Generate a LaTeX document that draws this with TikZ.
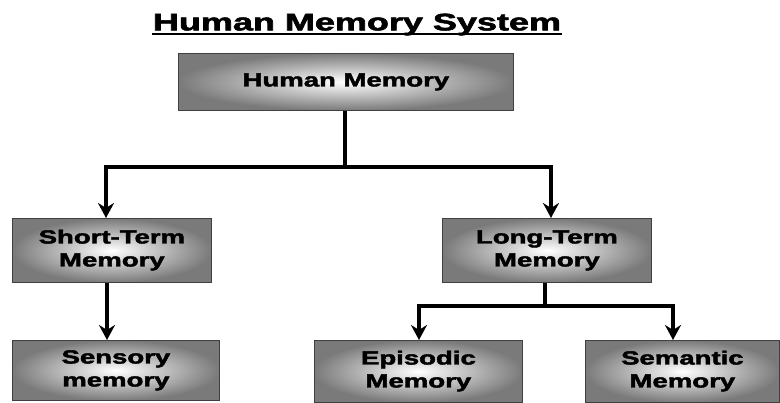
\documentclass[tikz,border=0pt]{standalone}
\usepackage{fontspec}
\usepackage{graphicx}
\setmainfont{Liberation Sans}
\newfontfamily\boxfont{Liberation Sans Bold}[FakeBold=2]
\newcommand{\widetext}[2]{\scalebox{#1}[1]{\begin{tabular}{@{}c@{}}#2\end{tabular}}}
\usetikzlibrary{arrows.meta}
\begin{document}
\begin{tikzpicture}[x=1pt,y=-1pt,
  membox/.style={draw=black!75, line width=0.8pt, inner color=white, outer color=black!52,
    align=center, font=\boxfont\fontsize{19}{23}\selectfont, anchor=north west, inner sep=0pt},
  conn/.style={line width=3.2pt, black},
  arr/.style={conn, -{Stealth[length=15pt,width=16pt,inset=5pt]}}]
\useasboundingbox (0,0) rectangle (780,403);
\node[font=\boxfont\fontsize{24}{28}\selectfont, anchor=base, inner sep=0pt] (title) at (357,31) {\widetext{1.5}{Human Memory System}};
\draw[line width=1.6pt] ([xshift=-1pt,yshift=-3pt]title.base west) -- ([xshift=1pt,yshift=-3pt]title.base east);
\node[membox, minimum width=335pt, minimum height=57pt] (hm) at (178,53) {\widetext{1.45}{Human Memory}};
\node[membox, minimum width=199pt, minimum height=64pt] (stm) at (12,218) {\widetext{1.45}{Short-Term\\Memory}};
\node[membox, minimum width=209pt, minimum height=64pt] (ltm) at (442,218) {\widetext{1.45}{Long-Term\\Memory}};
\node[membox, minimum width=207pt, minimum height=60pt] (sen) at (12,340) {\widetext{1.45}{Sensory\\memory}};
\node[membox, minimum width=208pt, minimum height=62pt] (epi) at (314,340) {\widetext{1.45}{Episodic\\Memory}};
\node[membox, minimum width=194pt, minimum height=62pt] (sem) at (585,340) {\widetext{1.45}{Semantic\\Memory}};
\coordinate (j1) at (345,167);
\coordinate (j2) at (545,306);
\draw[conn] (hm.south -| j1) -- (j1);
\draw[arr] (j1) -| (stm.north -| 106,0);
\draw[arr] (j1) -| (ltm.north -| 551,0);
\draw[arr] (stm.south -| 107,0) -- (sen.north -| 107,0);
\draw[conn] (ltm.south -| j2) -- (j2);
\draw[arr] (j2) -| (epi.north -| 419,0);
\draw[arr] (j2) -| (sem.north -| 673,0);
\end{tikzpicture}
\end{document}
